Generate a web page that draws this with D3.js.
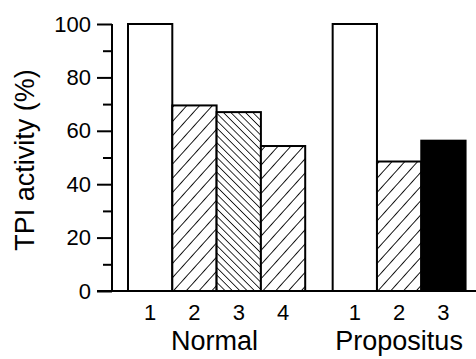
<!DOCTYPE html>
<html>
<head>
<meta charset="utf-8">
<script src="https://cdn.jsdelivr.net/npm/d3@7"></script>
<style>
  body { margin: 0; background: #fff; }
  text { font-family: "Liberation Sans", Arial, sans-serif; fill: #000; }
</style>
</head>
<body>
<div id="chart"></div>
<script>
// data
const groups = ["Normal", "Propositus"];
const normalLabels = ["1", "2", "3", "4"];
const normalValues = [100, 69.5, 67, 54.3];
const normalFills = ["none", "hatch", "dense", "hatch"];
const propLabels = ["1", "2", "3"];
const propValues = [100, 48.5, 56.3];
const propFills = ["none", "hatch", "solid"];
const yTicks = [0, 20, 40, 60, 80, 100];
const yMinor = [10, 30, 50, 70, 90];

const width = 476, height = 359;
const margin = { top: 24, left: 112, bottom: 68 };
const slot = 44.3;          // bar width in px
const groupGap = 0.62;      // empty slots between the two groups

const svg = d3.select("#chart").append("svg")
    .attr("width", width)
    .attr("height", height);

const defs = svg.append("defs");
function hatch(id, size, angle, sw) {
    const p = defs.append("pattern")
        .attr("id", id)
        .attr("patternUnits", "userSpaceOnUse")
        .attr("width", size).attr("height", size)
        .attr("patternTransform", `rotate(${angle})`);
    p.append("rect").attr("width", size).attr("height", size).attr("fill", "#fff");
    p.append("line")
        .attr("x1", 0).attr("y1", 0).attr("x2", 0).attr("y2", size)
        .attr("stroke", "#000").attr("stroke-width", sw);
}
hatch("hatch", 9.5, 42, 1.8);
hatch("dense", 5.2, -45, 1.6);

const fillFor = f => f === "hatch" ? "url(#hatch)" : f === "dense" ? "url(#dense)" : f === "solid" ? "#000" : "#fff";

// build bar table
const bars = [];
normalValues.forEach((v, i) => bars.push({ group: 0, label: normalLabels[i], value: v, fill: normalFills[i], pos: i }));
propValues.forEach((v, i) => bars.push({ group: 1, label: propLabels[i], value: v, fill: propFills[i], pos: normalValues.length + groupGap + i }));

const totalSlots = normalValues.length + groupGap + propValues.length;
const x = d3.scaleLinear()
    .domain([0, totalSlots])
    .range([128, 128 + totalSlots * slot]);

const y = d3.scaleLinear()
    .domain([0, 100])
    .range([291, margin.top]);

// bars
svg.selectAll("rect.bar")
    .data(bars)
    .enter().append("rect")
    .attr("class", "bar")
    .attr("x", d => x(d.pos))
    .attr("y", d => y(d.value))
    .attr("width", x(1) - x(0))
    .attr("height", d => y(0) - y(d.value))
    .attr("fill", d => fillFor(d.fill))
    .attr("stroke", "#000")
    .attr("stroke-width", 2);

// y axis, major ticks with labels
const yAxis = svg.append("g")
    .attr("transform", `translate(${margin.left},0)`)
    .call(d3.axisLeft(y).tickValues(yTicks).tickSize(15).tickPadding(6));
yAxis.select(".domain").attr("stroke-width", 2).attr("d", `M0,${y(100)}V${y(0)}`);
yAxis.selectAll(".tick line").attr("stroke-width", 2);
yAxis.selectAll(".tick text")
    .style("font-family", "'Liberation Sans', Arial, sans-serif")
    .attr("font-size", 22);

// minor ticks
const yMinorAxis = svg.append("g")
    .attr("transform", `translate(${margin.left},0)`)
    .call(d3.axisLeft(y).tickValues(yMinor).tickSize(9).tickFormat(""));
yMinorAxis.select(".domain").remove();
yMinorAxis.selectAll(".tick line").attr("stroke-width", 2);

// baseline
svg.append("line")
    .attr("x1", 97).attr("x2", width)
    .attr("y1", y(0)).attr("y2", y(0))
    .attr("stroke", "#000").attr("stroke-width", 2);

// bar labels
svg.selectAll("text.barlabel")
    .data(bars)
    .enter().append("text")
    .attr("class", "barlabel")
    .attr("x", d => x(d.pos + 0.5))
    .attr("y", 320)
    .attr("text-anchor", "middle")
    .attr("font-size", 22)
    .text(d => d.label);

// group labels
svg.selectAll("text.group")
    .data(groups)
    .enter().append("text")
    .attr("class", "group")
    .attr("x", (d, i) => i === 0 ? x(normalValues.length / 2) - 2 : x(normalValues.length + groupGap + propValues.length / 2))
    .attr("y", 350)
    .attr("text-anchor", "middle")
    .attr("font-size", 27)
    .text(d => d);

// y title
svg.append("text")
    .attr("transform", `translate(34,160) rotate(-90)`)
    .attr("text-anchor", "middle")
    .attr("font-size", 27)
    .text("TPI activity (%)");
</script>
</body>
</html>
